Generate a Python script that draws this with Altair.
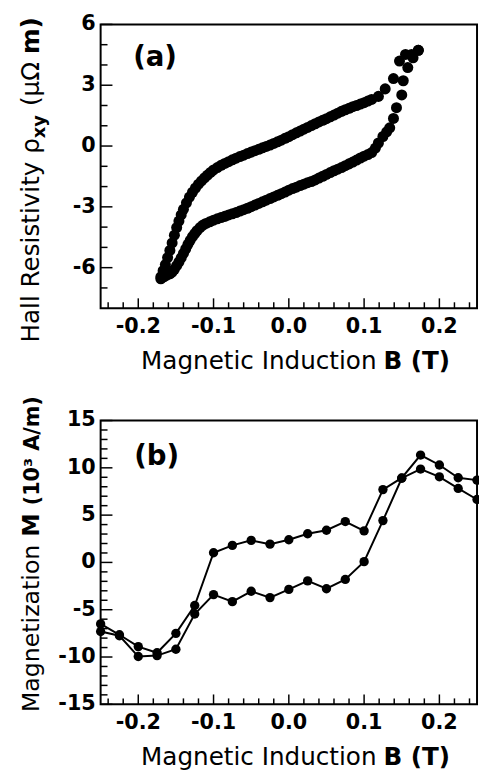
import altair as alt
import pandas as pd

# ---------------- data: panel (a) Hall resistivity loop ----------------
a_down_B = [0.172, 0.163, 0.155, 0.147, 0.139, 0.128, 0.119, 0.110, 0.105, 0.100,
            0.095, 0.090, 0.085, 0.080, 0.075, 0.070, 0.065, 0.060, 0.055, 0.050,
            0.045, 0.040, 0.035, 0.030, 0.025, 0.020, 0.015, 0.010, 0.005, 0.000,
            -0.005, -0.010, -0.015, -0.020, -0.025, -0.030, -0.035, -0.040, -0.045, -0.050,
            -0.055, -0.060, -0.065, -0.070, -0.075, -0.080, -0.085, -0.090, -0.095, -0.100,
            -0.104, -0.108, -0.112, -0.116, -0.120, -0.124, -0.128, -0.132, -0.136, -0.140,
            -0.143, -0.146, -0.149, -0.152, -0.155, -0.158, -0.161, -0.164, -0.167, -0.170]
a_down_R = [4.72, 4.52, 4.52, 4.19, 3.33, 2.82, 2.45, 2.30, 2.22, 2.14,
            2.07, 2.00, 1.94, 1.86, 1.79, 1.71, 1.62, 1.53, 1.44, 1.35,
            1.27, 1.19, 1.10, 1.01, 0.92, 0.83, 0.74, 0.65, 0.56, 0.46,
            0.38, 0.29, 0.21, 0.13, 0.05, -0.02, -0.09, -0.16, -0.23, -0.30,
            -0.37, -0.45, -0.52, -0.60, -0.68, -0.77, -0.86, -0.95, -1.06, -1.18,
            -1.30, -1.43, -1.57, -1.72, -1.88, -2.07, -2.28, -2.52, -2.80, -3.12,
            -3.40, -3.70, -4.02, -4.40, -4.78, -5.15, -5.50, -5.85, -6.15, -6.45]

a_up_B = [-0.170, -0.166, -0.162, -0.158, -0.155, -0.152, -0.149, -0.146, -0.143, -0.140,
          -0.137, -0.134, -0.131, -0.128, -0.125, -0.122, -0.118, -0.114, -0.110, -0.105,
          -0.100, -0.095, -0.090, -0.085, -0.080, -0.075, -0.070, -0.065, -0.060, -0.055,
          -0.050, -0.045, -0.040, -0.035, -0.030, -0.025, -0.020, -0.015, -0.010, -0.005,
          0.000, 0.005, 0.010, 0.015, 0.020, 0.025, 0.030, 0.035, 0.040, 0.045,
          0.050, 0.055, 0.060, 0.065, 0.070, 0.075, 0.080, 0.085, 0.090, 0.095,
          0.100, 0.105, 0.110, 0.115, 0.119, 0.125, 0.130, 0.134, 0.139, 0.143,
          0.150, 0.152, 0.158, 0.165, 0.172]
a_up_R = [-6.55, -6.45, -6.37, -6.30, -6.22, -6.08, -5.90, -5.72, -5.52, -5.30,
          -5.08, -4.85, -4.65, -4.47, -4.32, -4.18, -4.02, -3.90, -3.82, -3.74,
          -3.66, -3.59, -3.53, -3.47, -3.40, -3.34, -3.28, -3.21, -3.14, -3.07,
          -2.99, -2.91, -2.83, -2.75, -2.67, -2.59, -2.51, -2.43, -2.35, -2.27,
          -2.18, -2.10, -2.03, -1.95, -1.88, -1.81, -1.75, -1.67, -1.58, -1.49,
          -1.40, -1.31, -1.22, -1.14, -1.06, -0.97, -0.88, -0.79, -0.69, -0.59,
          -0.50, -0.42, -0.32, -0.10, 0.15, 0.47, 0.70, 0.90, 1.36, 1.89,
          2.52, 3.22, 3.87, 4.35, 4.72]

# ---------------- data: panel (b) magnetization loop ----------------
b_B = [-0.25, -0.225, -0.2, -0.175, -0.15, -0.125, -0.1, -0.075, -0.05, -0.025, 0.0,
       0.025, 0.05, 0.075, 0.1, 0.125, 0.15, 0.175, 0.2, 0.225, 0.25]
b_M_down = [-6.5, -7.65, -8.9, -9.55, -7.5, -4.55, 1.02, 1.8, 2.33, 1.93, 2.4,
            3.03, 3.4, 4.32, 3.33, 7.7, 8.93, 11.35, 10.3, 8.95, 8.7]
b_M_up = [-7.3, -7.75, -9.95, -9.85, -9.18, -5.45, -3.4, -4.15, -3.05, -3.72, -2.85,
          -1.95, -2.78, -1.8, 0.08, 4.42, 8.9, 9.87, 9.05, 7.82, 6.65]

# ---------------- axis tick values ----------------
x_major = [-0.2, -0.1, 0.0, 0.1, 0.2]
x_minor = [-0.24, -0.22, -0.18, -0.16, -0.14, -0.12, -0.08, -0.06, -0.04, -0.02,
           0.02, 0.04, 0.06, 0.08, 0.12, 0.14, 0.16, 0.18, 0.22, 0.24]
ya_major = [-6, -3, 0, 3, 6]
ya_minor = [-7, -5, -4, -2, -1, 1, 2, 4, 5]
yb_major = [-15, -10, -5, 0, 5, 10, 15]
yb_minor = [v for v in range(-14, 15) if v % 5 != 0]

# ---------------- layout (pixels, relative to panel (a) plot origin) ----------------
W = 382
A_TOP, A_BOT = 0, 288
B_TOP, B_BOT = 402, 690
FONT = "DejaVu Sans"
XDOM = [-0.25, 0.25]
YA = [-8, 6]
YB = [-15, 15]

xs = alt.Scale(domain=XDOM, nice=False, zero=False)
ys_a = alt.Scale(domain=YA, range=[A_BOT, A_TOP], nice=False, zero=False)
ys_b = alt.Scale(domain=YB, range=[B_BOT, B_TOP], nice=False, zero=False)


def fmt_x(v):
    return ("-" if v < 0 else "") + f"{abs(v):.1f}"


def fmt_y(v):
    return ("-" if v < 0 else "") + f"{abs(v):d}"


def txt(s, x, y, size=25, weight="normal", align="left", angle=0, baseline="alphabetic"):
    props = dict(font=FONT, fontSize=size, fontWeight=weight, align=align,
                 baseline=baseline, color="black")
    if angle:
        props["angle"] = angle
    return alt.Chart(pd.DataFrame({"t": [s]})).mark_text(**props).encode(
        text="t:N", x=alt.value(x), y=alt.value(y))


def frame(top, bot):
    return alt.Chart(pd.DataFrame({"k": [0]})).mark_rect(
        fillOpacity=0, stroke="black", strokeWidth=2).encode(
        x=alt.value(0), x2=alt.value(W), y=alt.value(top), y2=alt.value(bot))


def panel_axes(top, bot, ys, ymaj, ymin):
    out = []
    for vals, ln in ((x_major, 10), (x_minor, 6)):
        out.append(alt.Chart(pd.DataFrame({"v": vals})).mark_rule(color="black", strokeWidth=1.5)
                   .encode(x=alt.X("v:Q", scale=xs, axis=None),
                           y=alt.value(bot), y2=alt.value(bot - ln)))
    for vals, ln in ((ymaj, 12), (ymin, 7)):
        out.append(alt.Chart(pd.DataFrame({"v": vals})).mark_rule(color="black", strokeWidth=1.5)
                   .encode(y=alt.Y("v:Q", scale=ys, axis=None),
                           x=alt.value(0), x2=alt.value(ln)))
    # tick labels
    out.append(alt.Chart(pd.DataFrame({"v": x_major, "lab": [fmt_x(v) for v in x_major]}))
               .mark_text(font=FONT, fontSize=21, fontWeight="bold", align="center",
                          baseline="top", color="black")
               .encode(x=alt.X("v:Q", scale=xs, axis=None), y=alt.value(bot + 8), text="lab:N"))
    out.append(alt.Chart(pd.DataFrame({"v": ymaj, "lab": [fmt_y(v) for v in ymaj]}))
               .mark_text(font=FONT, fontSize=21, fontWeight="bold", align="right",
                          baseline="middle", color="black")
               .encode(y=alt.Y("v:Q", scale=ys, axis=None), x=alt.value(-5), text="lab:N"))
    # x title
    out.append(txt("Magnetic Induction", 280, bot + 62, align="right"))
    out.append(txt("B (T)", 287, bot + 62, weight="bold", align="left"))
    out.append(frame(top, bot))
    return out


# ---------------- panel (a) ----------------
df_a = pd.concat([
    pd.DataFrame({"B": a_down_B, "R": a_down_R, "br": "down"}),
    pd.DataFrame({"B": a_up_B, "R": a_up_R, "br": "up"}),
])
pts_a = alt.Chart(df_a).mark_circle(size=125, color="black", opacity=1).encode(
    x=alt.X("B:Q", scale=xs, axis=None),
    y=alt.Y("R:Q", scale=ys_a, axis=None),
)
YT = -62.5
P1 = 115.4
ytitle_a = [
    txt("Hall Resistivity \u03c1", YT, P1, align="right", angle=270),
    txt("xy", YT + 6, P1, size=18, weight="bold", align="left", angle=270),
    txt("(\u03bc\u03a9 ", YT, P1 - 32.6, align="left", angle=270),
    txt("m)", YT, P1 - 32.6 - 52.7, weight="bold", align="left", angle=270),
]

# ---------------- panel (b) ----------------
df_b = pd.concat([
    pd.DataFrame({"B": b_B, "M": b_M_down, "br": "down"}),
    pd.DataFrame({"B": b_B, "M": b_M_up, "br": "up"}),
])
line_b = alt.Chart(df_b).mark_line(color="black", strokeWidth=2).encode(
    x=alt.X("B:Q", scale=xs, axis=None),
    y=alt.Y("M:Q", scale=ys_b, axis=None),
    detail="br:N", order="B:Q",
)
pts_b = alt.Chart(df_b).mark_circle(size=90, color="black", opacity=1).encode(
    x=alt.X("B:Q", scale=xs, axis=None),
    y=alt.Y("M:Q", scale=ys_b, axis=None),
)
P2 = B_TOP + 126
ytitle_b = [
    txt("Magnetization", YT, P2, size=24, align="right", angle=270),
    txt("M", YT, P2 - 8, size=24, weight="bold", align="left", angle=270),
    txt("(10\u00b3 A/m)", YT, P2 - 40, size=21, weight="bold", align="left", angle=270),
]

chart = alt.layer(
    pts_a, *panel_axes(A_TOP, A_BOT, ys_a, ya_major, ya_minor),
    txt("(a)", 33, 42, size=28, weight="bold"), *ytitle_a,
    line_b, pts_b, *panel_axes(B_TOP, B_BOT, ys_b, yb_major, yb_minor),
    txt("(b)", 34, B_TOP + 45, size=28, weight="bold"), *ytitle_b,
).resolve_scale(y="independent").properties(
    width=W, height=B_BOT,
    autosize=alt.AutoSizeParams(type="none"),
    padding={"left": 94, "top": 11, "right": 2, "bottom": 61},
    background="white",
).configure_view(stroke=None)

chart.save("out.html", embed_options={"renderer": "svg", "actions": False})
